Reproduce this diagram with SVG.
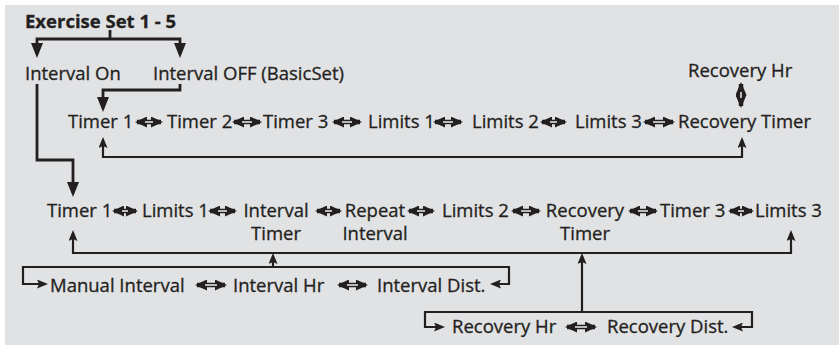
<svg xmlns="http://www.w3.org/2000/svg" width="839" height="345" viewBox="0 0 839 345">
<style>
.t{font-family:"Open Sans","Noto Sans","DejaVu Sans",sans-serif;font-size:18.5px;fill:#231f20;stroke:#231f20;stroke-width:0.3px}
.b{font-weight:bold}
.m{text-anchor:middle}
.c3{fill:none;stroke:#231f20;stroke-width:2.8}
.c2{fill:none;stroke:#231f20;stroke-width:2.2}
.big{marker-start:url(#bigA);marker-end:url(#bigA)}
.sm{marker-start:url(#smA);marker-end:url(#smA)}
.sme{marker-end:url(#smA)}
.bige{marker-end:url(#bigA)}
.dbl{fill:none;stroke:#231f20;stroke-width:4.5;marker-start:url(#dh);marker-end:url(#dh)}
.dblv{fill:none;stroke:#231f20;stroke-width:4.5;marker-start:url(#dv);marker-end:url(#dv)}
.dw{fill:none;stroke:#e1e2e4;stroke-width:1.6}
</style>
<defs>
<marker id="bigA" viewBox="0 0 15 12" refX="11" refY="6" markerWidth="15" markerHeight="12" markerUnits="userSpaceOnUse" orient="auto-start-reverse"><path d="M0,0 L15,6 L0,12 Z" fill="#231f20"/></marker>
<marker id="smA" viewBox="0 0 11 9" refX="8" refY="4.5" markerWidth="11" markerHeight="9" markerUnits="userSpaceOnUse" orient="auto-start-reverse"><path d="M0,0 L11,4.5 L0,9 L2,4.5 Z" fill="#231f20"/></marker>
<marker id="dh" viewBox="0 0 12 11" refX="10" refY="5.5" markerWidth="12" markerHeight="11" markerUnits="userSpaceOnUse" orient="auto-start-reverse"><path d="M0,0 L12,5.5 L0,11 Z" fill="#231f20"/></marker>
<marker id="dv" viewBox="0 0 13 11" refX="11" refY="5.5" markerWidth="13" markerHeight="11" markerUnits="userSpaceOnUse" orient="auto-start-reverse"><path d="M0,0 L13,5.5 L0,11 Z" fill="#231f20"/></marker>
</defs>
<rect x="5" y="5" width="834" height="340" fill="#e1e2e4"/>

<g id="connectors">
<path class="c3" d="M110,30 V39"/>
<path class="c3 big" d="M37,54 V39 H180 V54"/>
<path class="c3 bige" d="M180,84 V90 H103 V108"/>
<path class="c3 bige" d="M37,84 V160 H73 V193"/>
<path class="c2 sm" d="M103,140 V157 H742 V140"/>
<path class="c2 sm" d="M73,233 V253 H791 V233"/>
<path class="c2 sme" d="M273,267 V256"/>
<path class="c2 sme" d="M582,312 V256"/>
<path class="c2 sm" d="M45,284 H23 V267 H509 V284 H493"/>
<path class="c2 sm" d="M442,327 H425 V312 H752 V327 H735"/>
<!-- vertical double arrow -->
<path class="dblv" d="M741,84 V106"/><path class="dw" d="M741,92 V98"/>
<!-- row 1 -->
<path class="dbl" d="M137,122 H161"/><path class="dw" d="M145,122 H153"/>
<path class="dbl" d="M234,122 H260"/><path class="dw" d="M242,122 H252"/>
<path class="dbl" d="M334,122 H360"/><path class="dw" d="M342,122 H352"/>
<path class="dbl" d="M435,122 H461"/><path class="dw" d="M443,122 H453"/>
<path class="dbl" d="M542,122 H565"/><path class="dw" d="M550,122 H557"/>
<path class="dbl" d="M645,122 H673"/><path class="dw" d="M653,122 H665"/>
<!-- row 2 -->
<path class="dbl" d="M114,211 H136"/><path class="dw" d="M122,211 H128"/>
<path class="dbl" d="M210,211 H235"/><path class="dw" d="M218,211 H227"/>
<path class="dbl" d="M317,211 H340"/><path class="dw" d="M325,211 H332"/>
<path class="dbl" d="M409,211 H433"/><path class="dw" d="M417,211 H425"/>
<path class="dbl" d="M513,211 H539"/><path class="dw" d="M521,211 H531"/>
<path class="dbl" d="M630,211 H656"/><path class="dw" d="M638,211 H648"/>
<path class="dbl" d="M730,211 H752"/><path class="dw" d="M738,211 H744"/>
<!-- manual row -->
<path class="dbl" d="M197,285 H225"/><path class="dw" d="M205,285 H217"/>
<path class="dbl" d="M339,285 H366"/><path class="dw" d="M347,285 H358"/>
<!-- recovery row -->
<path class="dbl" d="M567,327 H595"/><path class="dw" d="M575,327 H587"/>
</g>

<g id="title"><text class="t b" x="25" y="28">Exercise Set 1 - 5</text></g>
<g id="interval-on"><text class="t" x="25" y="80">Interval On</text></g>
<g id="interval-off"><text class="t" x="153" y="80">Interval OFF (BasicSet)</text></g>
<g id="recovery-hr-top"><text class="t" x="688" y="77">Recovery Hr</text></g>

<g id="r1-timer1"><text class="t" x="68" y="128">Timer 1</text></g>
<g id="r1-timer2"><text class="t" x="167" y="128">Timer 2</text></g>
<g id="r1-timer3"><text class="t" x="263" y="128">Timer 3</text></g>
<g id="r1-limits1"><text class="t" x="368" y="128">Limits 1</text></g>
<g id="r1-limits2"><text class="t" x="472" y="128">Limits 2</text></g>
<g id="r1-limits3"><text class="t" x="575" y="128">Limits 3</text></g>
<g id="r1-recovery-timer"><text class="t" x="678" y="128">Recovery Timer</text></g>

<g id="r2-timer1"><text class="t" x="47" y="217">Timer 1</text></g>
<g id="r2-limits1"><text class="t" x="142" y="217">Limits 1</text></g>
<g id="r2-interval-timer"><text class="t m" x="276" y="217">Interval</text><text class="t m" x="276" y="240">Timer</text></g>
<g id="r2-repeat-interval"><text class="t m" x="375" y="217">Repeat</text><text class="t m" x="375" y="240">Interval</text></g>
<g id="r2-limits2"><text class="t" x="442" y="217">Limits 2</text></g>
<g id="r2-recovery-timer"><text class="t m" x="585" y="217">Recovery</text><text class="t m" x="585" y="240">Timer</text></g>
<g id="r2-timer3"><text class="t" x="660" y="217">Timer 3</text></g>
<g id="r2-limits3"><text class="t" x="755" y="217">Limits 3</text></g>

<g id="manual-interval"><text class="t" x="50" y="292">Manual Interval</text></g>
<g id="interval-hr"><text class="t" x="233" y="292">Interval Hr</text></g>
<g id="interval-dist"><text class="t" x="377" y="292">Interval Dist.</text></g>

<g id="recovery-hr"><text class="t" x="452" y="333">Recovery Hr</text></g>
<g id="recovery-dist"><text class="t" x="607" y="333">Recovery Dist.</text></g>
</svg>
